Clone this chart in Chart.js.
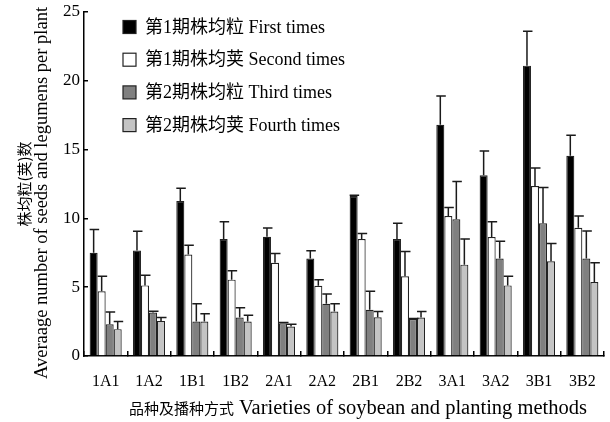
<!DOCTYPE html>
<html>
<head>
<meta charset="utf-8">
<script src="https://cdn.jsdelivr.net/npm/chart.js@4/dist/chart.umd.min.js"></script>
<style>
  html, body { margin: 0; padding: 0; background: #fff; }
  #wrap { width: 610px; height: 422px; }
</style>
</head>
<body>
<div id="wrap"><canvas id="seedChart" width="610" height="422"></canvas></div>
<script>
const categories = ['1A1', '1A2', '1B1', '1B2', '2A1', '2A2', '2B1', '2B2', '3A1', '3A2', '3B1', '3B2'];
const seriesLabels = [
  '第1期株均粒 First times',
  '第1期株均荚 Second times',
  '第2期株均粒 Third times',
  '第2期株均荚 Fourth times'
];
const xTitle = ['品种及播种方式', 'Varieties of soybean and planting methods'];
const yTitle = ['株均粒(荚)数', 'Averaage number of seeds and legumens per plant'];

const firstTimes  = [7.5, 7.66, 11.26, 8.5, 8.66, 7.08, 11.63, 8.5, 16.8, 13.14, 21.1, 14.55];
const firstErr    = [1.7, 1.4, 0.93, 1.26, 0.64, 0.56, 0.05, 1.14, 2.1, 1.76, 2.5, 1.5];
const secondTimes = [4.7, 5.13, 7.37, 5.55, 6.77, 5.1, 8.5, 5.79, 10.17, 8.64, 12.36, 9.32];
const secondErr   = [1.1, 0.73, 0.68, 0.65, 0.68, 0.45, 0.4, 1.8, 0.63, 1.12, 1.3, 0.85];
const thirdTimes  = [2.3, 3.16, 2.5, 2.8, 2.38, 3.8, 3.36, 2.68, 9.93, 7.08, 9.64, 7.08];
const thirdErr    = [0.9, 0.1, 1.3, 0.7, 0.05, 0.7, 1.34, 0.05, 2.75, 1.26, 2.6, 2.0];
const fourthTimes = [1.95, 2.55, 2.5, 2.5, 2.14, 3.23, 2.82, 2.8, 6.64, 5.13, 6.88, 5.38];
const fourthErr   = [0.55, 0.25, 0.57, 0.47, 0.16, 0.57, 0.41, 0.43, 1.86, 0.66, 1.3, 1.39];

const yTicks = [0, 5, 10, 15, 20, 25];

const fills = ['#000000', '#ffffff', '#808080', '#c4c4c4'];
const FONT = "'Liberation Serif', 'Noto Sans CJK SC', serif";
const CJK = "'Noto Sans CJK SC', serif";

// one-sided (upward) error bars
const errorBars = {
  id: 'errorBars',
  afterDatasetsDraw(chart) {
    const ctx = chart.ctx;
    const y = chart.scales.y;
    ctx.save();
    ctx.strokeStyle = '#1a1a1a';
    ctx.lineWidth = 1.5;
    chart.data.datasets.forEach((ds, i) => {
      const meta = chart.getDatasetMeta(i);
      meta.data.forEach((bar, j) => {
        const top = y.getPixelForValue(ds.data[j] + ds.errors[j]);
        const x = bar.x;
        ctx.beginPath();
        ctx.moveTo(x, bar.y);
        ctx.lineTo(x, top);
        ctx.moveTo(x - 4, top);
        ctx.lineTo(x + 5.5, top);
        ctx.stroke();
      });
    });
    ctx.restore();
  }
};

// vertical legend inside the plot, top-left
const innerLegend = {
  id: 'innerLegend',
  afterDraw(chart) {
    const ctx = chart.ctx;
    const area = chart.chartArea;
    ctx.save();
    ctx.font = '18px ' + FONT;
    ctx.textBaseline = 'middle';
    chart.data.datasets.forEach((ds, i) => {
      const cy = area.top + 15 + i * 32.7;
      const bx = area.left + 39;
      ctx.fillStyle = ds.backgroundColor;
      ctx.fillRect(bx, cy - 6.5, 13, 13);
      ctx.strokeStyle = '#222';
      ctx.lineWidth = 1.2;
      ctx.strokeRect(bx, cy - 6.5, 13, 13);
      ctx.fillStyle = '#000';
      ctx.fillText(ds.label, bx + 22, cy + 1);
    });
    ctx.restore();
  }
};

// axis titles: Chinese and English parts set in their own sizes
const axisTitles = {
  id: 'axisTitles',
  afterDraw(chart) {
    const ctx = chart.ctx;
    const area = chart.chartArea;
    ctx.save();
    ctx.fillStyle = '#000';
    ctx.textBaseline = 'middle';

    // x title, one line
    const cnFont = '15px ' + CJK;
    const enFont = '20.5px ' + FONT;
    ctx.font = cnFont;
    const wCn = ctx.measureText(xTitle[0]).width;
    ctx.font = enFont;
    const wEn = ctx.measureText(xTitle[1]).width;
    const gap = 5;
    const total = wCn + gap + wEn;
    const cx = (area.left + area.right) / 2 + 14;
    const ty = chart.height - 14;
    const x0 = cx - total / 2;
    ctx.textAlign = 'left';
    ctx.font = cnFont;
    ctx.fillText(xTitle[0], x0, ty);
    ctx.font = enFont;
    ctx.fillText(xTitle[1], x0 + wCn + gap, ty + 1);

    // y title, two rotated lines
    const midY = (area.top + area.bottom) / 2;
    ctx.textAlign = 'center';
    ctx.save();
    ctx.translate(24, midY);
    ctx.rotate(-Math.PI / 2);
    ctx.font = '15px ' + CJK;
    ctx.fillText(yTitle[0], 0, 0);
    ctx.restore();
    ctx.save();
    ctx.translate(41, midY + 9);
    ctx.rotate(-Math.PI / 2);
    ctx.font = '18.5px ' + FONT;
    ctx.fillText(yTitle[1], 0, 1);
    ctx.restore();

    ctx.restore();
  }
};

const seriesData = [firstTimes, secondTimes, thirdTimes, fourthTimes];
const seriesErr = [firstErr, secondErr, thirdErr, fourthErr];

new Chart(document.getElementById('seedChart'), {
  type: 'bar',
  data: {
    labels: categories,
    datasets: seriesData.map((d, i) => ({
      label: seriesLabels[i],
      data: d,
      errors: seriesErr[i],
      backgroundColor: fills[i],
      borderColor: '#222',
      borderWidth: 1.2,
      barPercentage: 1.0,
      categoryPercentage: 0.74
    }))
  },
  options: {
    responsive: false,
    animation: false,
    layout: { padding: { top: 12, right: 6, left: 0, bottom: 0 } },
    plugins: {
      legend: { display: false },
      tooltip: { enabled: false }
    },
    scales: {
      x: {
        offset: true,
        grid: { display: true, drawOnChartArea: false, offset: true, tickLength: -5, color: '#000', lineWidth: 1.5 },
        border: { display: true, color: '#000', width: 1.5 },
        ticks: { color: '#000', font: { family: FONT, size: 16 }, padding: 21, maxRotation: 0 },
        afterFit(scale) {
          scale.height = 66;
          scale.paddingLeft = 0;
          scale.paddingRight = 0;
        }
      },
      y: {
        min: 0,
        max: 25,
        afterBuildTicks(scale) { scale.ticks = yTicks.map(v => ({ value: v })); },
        grid: { display: true, drawOnChartArea: false, tickLength: -4, color: '#000', lineWidth: 1.5 },
        border: { display: true, color: '#000', width: 1.5 },
        ticks: { color: '#000', font: { family: FONT, size: 17 }, padding: 8 },
        afterFit(scale) {
          scale.width = 84;
          scale.paddingTop = 0;
          scale.paddingBottom = 0;
        }
      }
    }
  },
  plugins: [errorBars, innerLegend, axisTitles]
});
</script>
</body>
</html>
